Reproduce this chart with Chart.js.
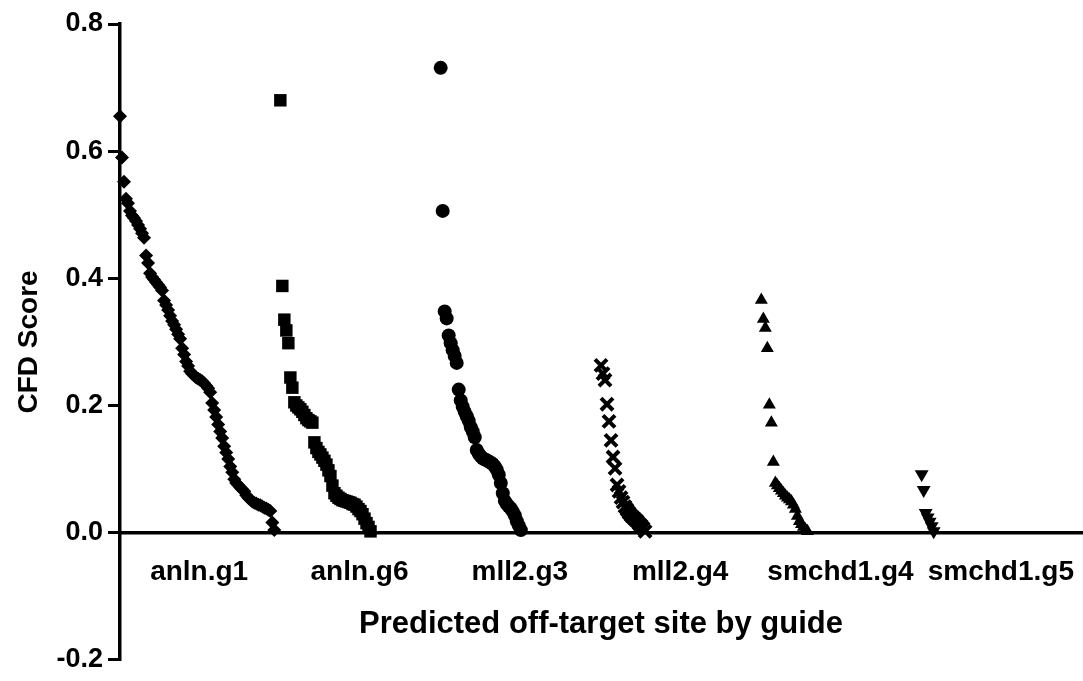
<!DOCTYPE html>
<html>
<head>
<meta charset="utf-8">
<title>CFD Score by guide</title>
<script src="https://cdn.jsdelivr.net/npm/chart.js@4.4.1/dist/chart.umd.min.js"></script>
<style>
    html, body { margin: 0; padding: 0; background: #fff; }
    #wrap { width: 1083px; height: 681px; }
</style>
</head>
<body>
<div id="wrap"><canvas id="cfdChart"></canvas></div>
<script>
// Guide names shown under the zero line
const guides = ['anln.g1', 'anln.g6', 'mll2.g3', 'mll2.g4', 'smchd1.g4', 'smchd1.g5'];

// CFD scores of the predicted off-target sites, ranked high to low per guide
const anlnG1 = [
    0.655, 0.590, 0.552, 0.525, 0.518, 0.506, 0.499, 0.495, 0.490, 0.484,
    0.478, 0.471, 0.464, 0.436, 0.424, 0.408, 0.402, 0.398, 0.394, 0.390,
    0.386, 0.381, 0.365, 0.358, 0.350, 0.341, 0.333, 0.327, 0.320, 0.312,
    0.305, 0.290, 0.280, 0.269, 0.262, 0.254, 0.250, 0.247, 0.244, 0.242,
    0.240, 0.238, 0.235, 0.231, 0.227, 0.221, 0.204, 0.193, 0.182, 0.170,
    0.159, 0.149, 0.136, 0.126, 0.116, 0.104, 0.095, 0.084, 0.078, 0.075,
    0.071, 0.068, 0.065, 0.059, 0.055, 0.052, 0.049, 0.047, 0.046, 0.044,
    0.043, 0.041, 0.039, 0.038, 0.036, 0.034, 0.016, 0.004
];
const anlnG6 = [
    0.680, 0.388, 0.335, 0.318, 0.298, 0.244, 0.228, 0.205, 0.200, 0.197,
    0.194, 0.190, 0.185, 0.180, 0.177, 0.175, 0.173, 0.142, 0.133, 0.127,
    0.123, 0.118, 0.113, 0.107, 0.098, 0.089, 0.074, 0.062, 0.058, 0.055,
    0.053, 0.051, 0.050, 0.049, 0.048, 0.047, 0.045, 0.044, 0.041, 0.037,
    0.034, 0.029, 0.022, 0.015, 0.009, 0.002
];
const mll2G3 = [
    0.731, 0.506, 0.348, 0.337, 0.310, 0.298, 0.287, 0.278, 0.267, 0.225,
    0.208, 0.198, 0.190, 0.183, 0.176, 0.166, 0.159, 0.150, 0.130, 0.124,
    0.120, 0.117, 0.115, 0.114, 0.112, 0.110, 0.108, 0.104, 0.099, 0.091,
    0.078, 0.062, 0.050, 0.045, 0.041, 0.038, 0.033, 0.027, 0.018, 0.011,
    0.004
];
const mll2G4 = [
    0.263, 0.250, 0.240, 0.202, 0.175, 0.145, 0.119, 0.101, 0.075, 0.065,
    0.055, 0.048, 0.041, 0.036, 0.031, 0.027, 0.024, 0.021, 0.018, 0.014,
    0.011, 0.007, 0.002
];
const smchd1G4 = [
    0.366, 0.336, 0.322, 0.290, 0.201, 0.173, 0.111, 0.078, 0.074, 0.070,
    0.066, 0.062, 0.058, 0.055, 0.052, 0.049, 0.044, 0.037, 0.026, 0.018,
    0.013, 0.009, 0.005, 0.002
];
const smchd1G5 = [0.092, 0.067, 0.031, 0.024, 0.017, 0.010, 0.002];

// Y axis tick values
const yTicks = [-0.2, 0.0, 0.2, 0.4, 0.6, 0.8];

const seriesByGuide = [anlnG1, anlnG6, mll2G3, mll2G4, smchd1G4, smchd1G5];

// Each guide gets a block of site ranks on the x axis
const SITES_PER_GUIDE = 80;
const LABEL_OFFSET = 39.5;

// Marker per guide
const markers = [
    { style: 'rectRot', radius: 7, border: 0 },
    { style: 'rect', radius: 8.8, border: 0 },
    { style: 'circle', radius: 7, border: 0 },
    { style: 'crossRot', radius: 8.5, border: 4 },
    { style: 'triangle', radius: 7.5, border: 0, rotation: 0 },
    { style: 'triangle', radius: 8, border: 0, rotation: 180 }
];

const FONT = "'Liberation Sans', Arial, Helvetica, sans-serif";

Chart.defaults.font.family = FONT;
Chart.defaults.font.weight = 'bold';
Chart.defaults.color = '#000';

function buildDatasets() {
    return seriesByGuide.map((scores, k) => ({
        label: guides[k],
        data: scores.map((score, i) => ({ x: k * SITES_PER_GUIDE + i, y: score })),
        pointStyle: markers[k].style,
        pointRadius: markers[k].radius,
        pointRotation: markers[k].rotation || 0,
        pointBackgroundColor: '#000',
        pointBorderColor: '#000',
        pointBorderWidth: markers[k].border,
        showLine: false,
        clip: false
    }));
}

const ctx = document.getElementById('cfdChart').getContext('2d');

const cfdChart = new Chart(ctx, {
    type: 'scatter',
    data: { datasets: buildDatasets() },
    options: {
        responsive: true,
        maintainAspectRatio: false,
        animation: false,
        layout: {
            autoPadding: false,
            padding: { top: 24, right: 1, bottom: 0, left: 0 }
        },
        plugins: {
            legend: { display: false },
            tooltip: { enabled: false }
        },
        scales: {
            x: {
                type: 'linear',
                position: { y: 0 },
                min: 0,
                max: SITES_PER_GUIDE * guides.length,
                grid: { display: false },
                border: { display: true, color: '#000', width: 3.5 },
                afterBuildTicks: (scale) => {
                    scale.ticks = guides.map((g, k) => ({ value: k * SITES_PER_GUIDE + LABEL_OFFSET }));
                },
                afterFit: (scale) => {
                    // axis sits on the zero line, so it needs no room of its own
                    scale.height = 15;
                    scale.paddingLeft = 0;
                    scale.paddingRight = 0;
                },
                ticks: {
                    autoSkip: false,
                    maxRotation: 0,
                    minRotation: 0,
                    padding: 15,
                    font: { size: 28, weight: 'bold' },
                    callback: (value, index) => guides[index]
                },
                title: {
                    display: true,
                    text: 'Predicted off-target site by guide',
                    font: { size: 31, weight: 'bold' },
                    padding: { top: 0, bottom: -95 }
                }
            },
            y: {
                min: -0.2,
                max: 0.8,
                afterBuildTicks: (scale) => {
                    scale.ticks = yTicks.map(v => ({ value: v }));
                },
                afterFit: (scale) => {
                    scale.width = 120;
                },
                grid: {
                    drawOnChartArea: false,
                    drawTicks: true,
                    tickLength: 12,
                    lineWidth: 3,
                    color: '#000'
                },
                border: { display: true, color: '#000', width: 3.5 },
                ticks: {
                    padding: 5,
                    font: { size: 27, weight: 'bold' },
                    callback: (value) => Number(value).toFixed(1)
                },
                title: {
                    display: true,
                    text: 'CFD Score',
                    font: { size: 28, weight: 'bold' },
                    padding: { top: 12, bottom: 0 }
                }
            }
        }
    }
});
</script>
</body>
</html>
